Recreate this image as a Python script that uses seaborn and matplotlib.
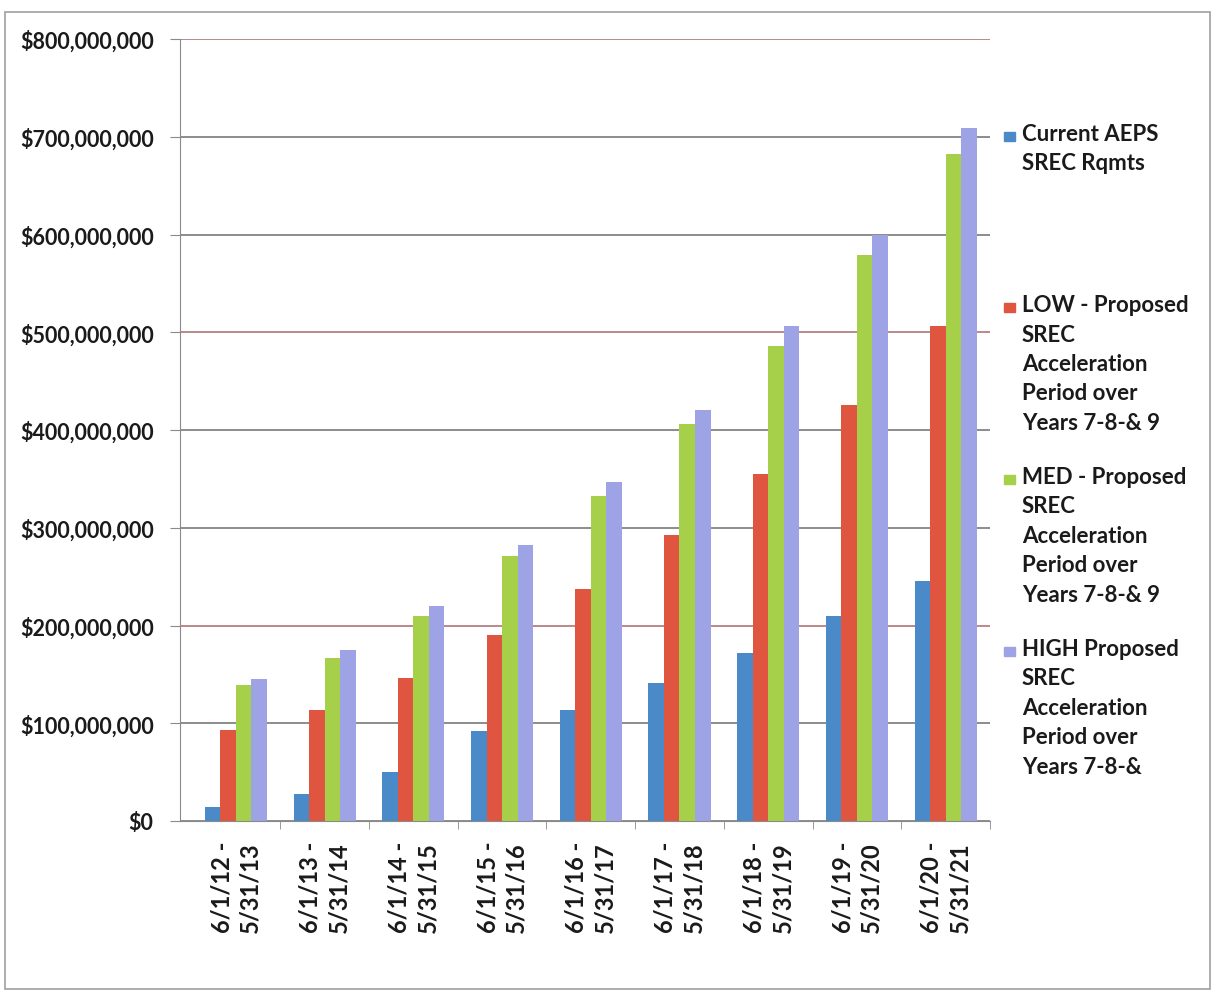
import pandas as pd
import numpy as np
import matplotlib
matplotlib.use("Agg")
import matplotlib.pyplot as plt
import matplotlib.ticker as mticker
from matplotlib.patches import Rectangle
import seaborn as sns

# delivery years (two-line labels, as on the scan)
periods = ["6/1/12 -\n5/31/13", "6/1/13 -\n5/31/14", "6/1/14 -\n5/31/15",
           "6/1/15 -\n5/31/16", "6/1/16 -\n5/31/17", "6/1/17 -\n5/31/18",
           "6/1/18 -\n5/31/19", "6/1/19 -\n5/31/20", "6/1/20 -\n5/31/21"]

series_names = ["Current AEPS SREC Rqmts",
                "LOW - Proposed SREC Acceleration Period over Years 7-8-& 9",
                "MED - Proposed SREC Acceleration Period over Years 7-8-& 9",
                "HIGH Proposed SREC Acceleration Period over Years 7-8-&"]

legend_text = ["Current AEPS\nSREC Rqmts",
               "LOW - Proposed\nSREC\nAcceleration\nPeriod over\nYears 7-8-& 9",
               "MED - Proposed\nSREC\nAcceleration\nPeriod over\nYears 7-8-& 9",
               "HIGH Proposed\nSREC\nAcceleration\nPeriod over\nYears 7-8-&"]

# values in $ millions
current = [14, 28, 50, 92, 114, 141, 172, 210, 246]
low     = [93, 114, 146, 190, 237, 293, 355, 426, 506]
med     = [139, 167, 210, 271, 332, 406, 486, 579, 682]
high    = [145, 175, 220, 282, 347, 420, 506, 600, 709]

colors = ["#4a8ac8", "#e0553f", "#a6d04a", "#9da3e4"]

rows = []
for name, vals in zip(series_names, [current, low, med, high]):
    for p, v in zip(periods, vals):
        rows.append({"period": p, "series": name, "value": v * 1e6})
df = pd.DataFrame(rows)

plt.rcParams["font.family"] = ["Lato", "DejaVu Sans"]
fig = plt.figure(figsize=(12.15, 9.95), dpi=100)
ax = fig.add_axes([180 / 1215, 1 - 822 / 995, 810 / 1215, 782 / 995])

sns.barplot(data=df, x="period", y="value", hue="series", order=periods,
            hue_order=series_names, palette=colors, width=0.7, dodge=True,
            saturation=1, legend=False, ax=ax)

ax.set_ylim(0, 800e6)
ax.set_xlim(-0.63, 8.5)
ax.yaxis.set_major_locator(mticker.MultipleLocator(100e6))
ax.yaxis.set_major_formatter(mticker.FuncFormatter(lambda v, p: "${:,.0f}".format(v)))
ax.set_xlabel("")
ax.set_ylabel("")

ax.set_axisbelow(True)
ax.yaxis.grid(True, color="#6e6e6e", lw=1.1)
for loc, gl in zip(ax.get_yticks(), ax.get_ygridlines()):
    if round(loc / 1e6) in (200, 500, 800):
        gl.set_color("#a86a6a")

for s in ["top", "right"]:
    ax.spines[s].set_visible(False)
ax.spines["left"].set_color("#8a8a8a")
ax.spines["bottom"].set_color("#8a8a8a")

ax.tick_params(axis="y", length=7, color="#8a8a8a", labelsize=15.5, pad=12)
ax.tick_params(axis="x", which="major", length=0, labelsize=17, pad=14)
ax.set_xticks(np.arange(len(periods)) + 0.5, minor=True)
ax.tick_params(axis="x", which="minor", length=6, color="#8a8a8a")
for lab in ax.get_yticklabels():
    lab.set_fontweight("bold")
    lab.set_color("#1a1a1a")
for lab in ax.get_xticklabels():
    lab.set_rotation(90)
    lab.set_fontweight("bold")
    lab.set_color("#1a1a1a")
    lab.set_ha("center")
    lab.set_va("top")
    lab.set_multialignment("left")
    lab.set_linespacing(1.3)

# legend drawn to the right of the plot, entries spread like the Excel original
tops = [137, 308, 480, 652]
for c, txt, ty in zip(colors, legend_text, tops):
    fig.add_artist(Rectangle((1004 / 1215, 1 - (ty + 5) / 995), 11 / 1215, 9 / 995,
                             transform=fig.transFigure, color=c))
    fig.text(1022 / 1215, 1 - (ty - 13) / 995, txt, fontsize=16, fontweight="bold",
             color="#1a1a1a", va="top", ha="left", linespacing=1.5)

# chart frame
fig.add_artist(Rectangle((5 / 1215, 5 / 995), 1205 / 1215, 977 / 995,
                         transform=fig.transFigure, fill=False, ec="#a0a0a0", lw=1.2))

fig.savefig("out.png", dpi=100)
